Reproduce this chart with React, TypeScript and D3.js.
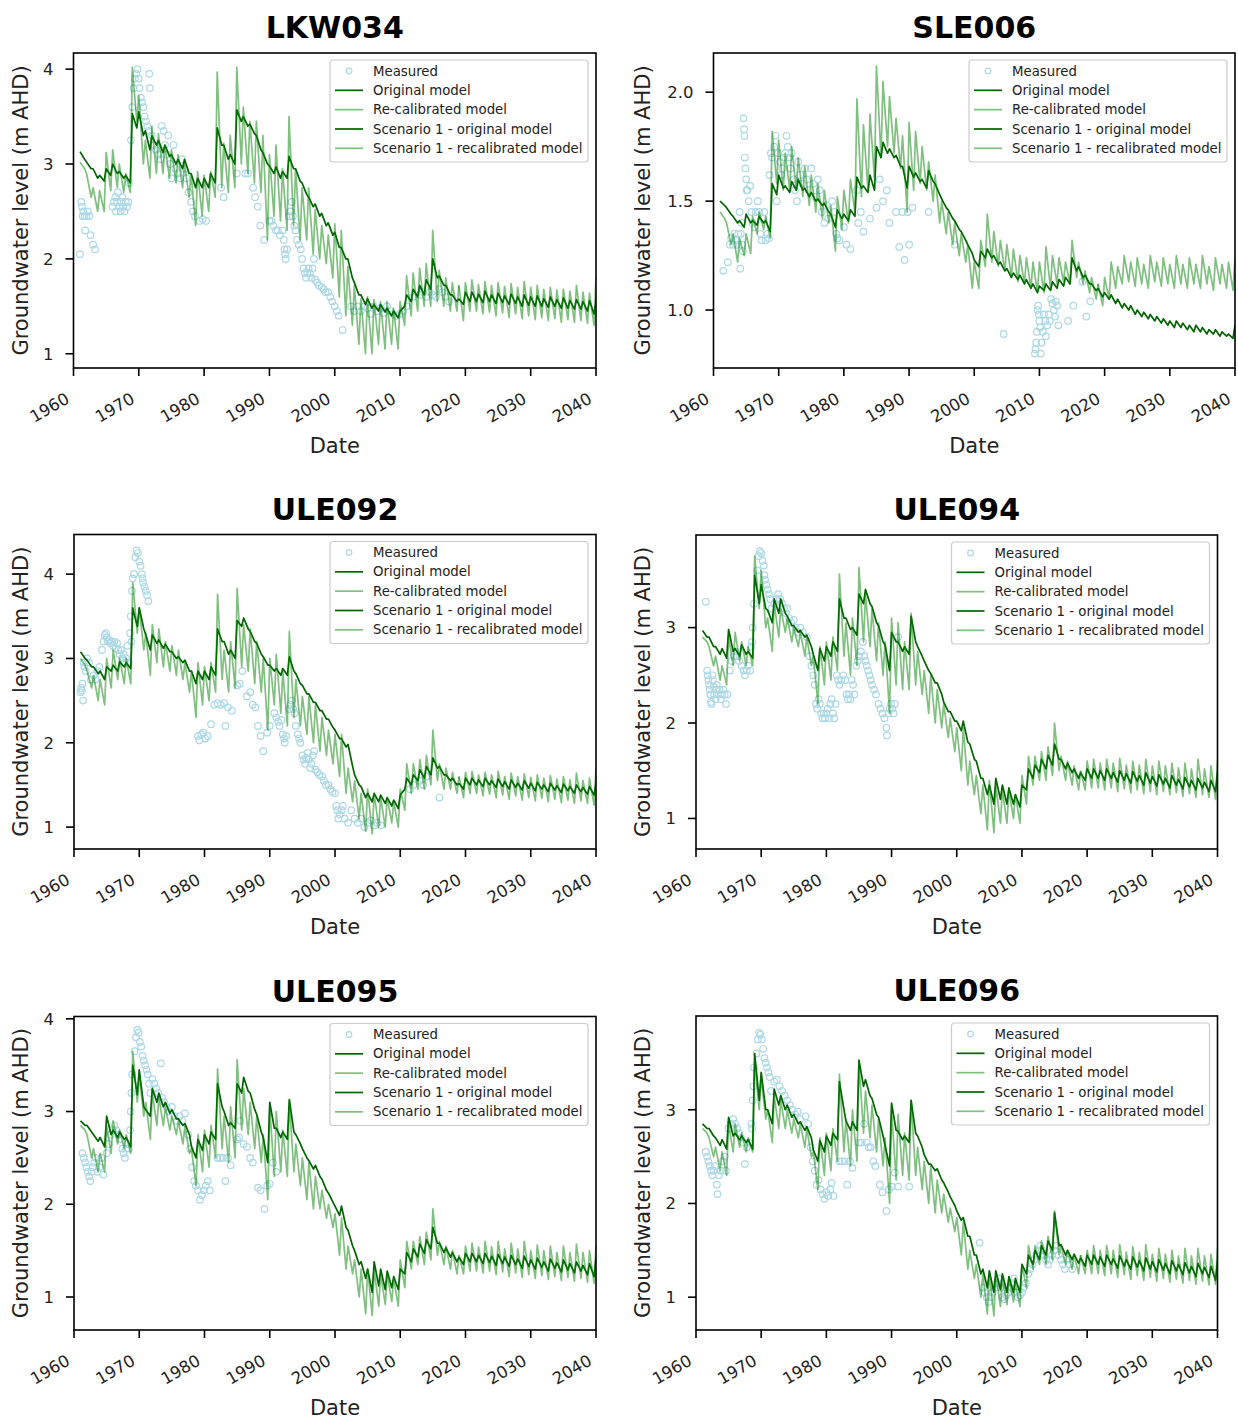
import React from "react";
import * as d3 from "d3";

// ---------- DATA ----------
const FIRST_YEAR = 1961; // first year of model series; one peak (hi) and one trough (lo) value per year
const TROUGH_OFFSET = 0.7; // fraction of year at which the annual trough is drawn
const SPLIT_YEAR = 2019; // model -> scenario

const X_TICKS = [1960, 1970, 1980, 1990, 2000, 2010, 2020, 2030, 2040];

// LKW034
const LKW034_ORIG_HI = [
  3.13, 3.02, 2.95, 2.88, 2.95, 3.0, 2.92, 2.88, 3.53, 3.55,
  3.35, 3.3, 3.25, 3.2, 3.1, 3.05, 3.05, 2.9, 2.85, 2.85,
  2.9, 3.38, 3.2, 3.1, 3.57, 3.5, 3.42, 3.3, 3.12, 2.98,
  2.97, 2.92, 3.08, 2.95, 2.8, 2.65, 2.58, 2.48, 2.38, 2.28,
  2.12, 2.0, 1.75, 1.62, 1.58, 1.52, 1.52, 1.48, 1.45, 1.45,
  1.62, 1.68, 1.72, 1.78, 2.0, 1.82, 1.72, 1.62, 1.58, 1.65,
  1.65, 1.63, 1.66, 1.62, 1.64, 1.61, 1.63, 1.6, 1.62, 1.6,
  1.61, 1.58, 1.6, 1.57, 1.59, 1.56, 1.57, 1.55, 1.56, 1.56,
];
const LKW034_ORIG_LO = [
  3.05, 2.95, 2.85, 2.82, 2.88, 2.9, 2.85, 2.8, 3.38, 3.3,
  3.15, 3.2, 3.12, 3.08, 3.0, 2.95, 2.9, 2.75, 2.75, 2.75,
  2.8, 3.2, 3.05, 3.0, 3.45, 3.4, 3.32, 3.15, 3.0, 2.9,
  2.85, 2.85, 2.95, 2.82, 2.68, 2.55, 2.45, 2.35, 2.25, 2.12,
  2.0, 1.8, 1.62, 1.52, 1.48, 1.45, 1.44, 1.4, 1.38, 1.5,
  1.55, 1.6, 1.62, 1.68, 1.8, 1.72, 1.62, 1.55, 1.52, 1.55,
  1.55, 1.54, 1.55, 1.53, 1.54, 1.52, 1.53, 1.5, 1.51, 1.5,
  1.5, 1.49, 1.5, 1.48, 1.48, 1.47, 1.47, 1.45, 1.42, 1.45,
];
const LKW034_RECAL_HI = [
  3.02, 2.9, 2.75, 2.72, 3.12, 3.15, 3.0, 2.9, 4.02, 3.72,
  3.25, 3.4, 3.32, 3.2, 3.15, 3.1, 3.0, 2.9, 2.92, 2.88,
  2.92, 3.97, 3.22, 3.3, 4.02, 3.6, 3.45, 3.45, 3.3, 3.1,
  3.2, 2.95, 3.5, 2.95, 2.75, 2.75, 2.52, 2.35, 2.25, 2.37,
  2.3, 1.92, 1.72, 1.58, 1.6, 1.57, 1.55, 1.55, 1.48, 1.55,
  1.82, 1.85, 1.9, 1.95, 2.3, 1.88, 1.8, 1.75, 1.72, 1.75,
  1.78, 1.73, 1.76, 1.72, 1.75, 1.71, 1.74, 1.7, 1.76, 1.7,
  1.72, 1.68, 1.7, 1.67, 1.68, 1.66, 1.72, 1.65, 1.64, 1.8,
];
const LKW034_RECAL_LO = [
  2.95, 2.65, 2.5, 2.5, 2.72, 2.75, 2.7, 2.7, 3.45, 3.0,
  2.85, 2.9, 2.9, 2.85, 2.8, 2.75, 2.65, 2.35, 2.45, 2.5,
  2.65, 2.75, 2.7, 2.75, 3.0, 2.9, 2.8, 2.7, 2.2, 2.45,
  2.4, 2.3, 2.35, 2.2, 2.2, 2.05, 2.0, 1.95, 1.8, 1.6,
  1.4, 1.3, 1.1, 1.0, 1.0, 1.1, 1.05, 1.1, 1.05, 1.3,
  1.4, 1.45, 1.5, 1.5, 1.55, 1.5, 1.45, 1.45, 1.35, 1.45,
  1.45, 1.42, 1.44, 1.4, 1.43, 1.38, 1.42, 1.37, 1.4, 1.36,
  1.38, 1.35, 1.37, 1.33, 1.36, 1.33, 1.35, 1.32, 1.3, 1.4,
];
const LKW034_MEASURED = [
  [1961.0, 2.05], [1961.2, 2.6], [1961.3, 2.55], [1961.4, 2.45], [1961.5, 2.5], [1961.7, 2.45], [1961.8, 2.3], [1962.0, 2.45], [1962.2, 2.5], [1962.4, 2.45], [1962.6, 2.25], [1963.0, 2.15], [1963.3, 2.1],
  [1966.0, 2.55], [1966.2, 2.6], [1966.4, 2.65], [1966.5, 2.5], [1966.7, 2.6], [1966.8, 2.7], [1967.0, 2.55], [1967.2, 2.5], [1967.3, 2.6], [1967.5, 2.65], [1967.6, 2.55], [1967.8, 2.5], [1968.0, 2.6], [1968.2, 2.55], [1968.4, 2.6], [1968.5, 2.8],
  [1968.8, 3.25], [1969.0, 3.6], [1969.2, 3.8], [1969.4, 3.9], [1969.6, 3.95], [1969.8, 4.0], [1970.0, 3.9], [1970.1, 3.8], [1970.3, 3.7], [1970.5, 3.65], [1970.7, 3.6], [1970.9, 3.5], [1971.1, 3.45], [1971.3, 3.4], [1971.5, 3.35], [1971.6, 3.95], [1971.7, 3.8],
  [1972.0, 3.3], [1972.3, 3.2], [1972.6, 3.15], [1973.0, 3.1], [1973.3, 3.05], [1973.5, 3.4], [1973.8, 3.35], [1974.0, 3.2], [1974.3, 3.1], [1974.5, 3.3], [1974.8, 3.0], [1975.0, 2.85], [1975.3, 3.2], [1975.6, 2.95], [1976.0, 2.9], [1976.3, 2.85], [1976.6, 3.05], [1977.0, 2.95], [1977.3, 2.85], [1977.6, 2.7], [1978.0, 2.6], [1978.3, 2.5], [1978.6, 2.45],
  [1979.3, 2.4], [1979.8, 2.42], [1980.3, 2.4],
  [1982.6, 2.75], [1983.0, 2.65],
  [1985.0, 2.9], [1986.3, 2.9], [1986.7, 2.9],
  [1987.5, 2.75], [1987.8, 2.65], [1988.2, 2.55], [1988.6, 2.35], [1989.2, 2.2],
  [1990.0, 2.4], [1990.3, 2.4], [1990.6, 2.35], [1991.0, 2.3], [1991.3, 2.3], [1991.6, 2.25], [1992.0, 2.3], [1992.2, 2.2], [1992.3, 2.1], [1992.4, 2.05], [1992.5, 2.0], [1992.7, 2.1],
  [1993.0, 2.45], [1993.2, 2.5], [1993.4, 2.6], [1993.6, 2.45], [1993.8, 2.35], [1994.0, 2.3], [1994.2, 2.2], [1994.5, 2.15], [1994.8, 2.1],
  [1995.0, 2.0], [1995.2, 1.9], [1995.4, 1.85], [1995.6, 1.8], [1995.8, 1.85], [1996.0, 1.9], [1996.2, 1.85], [1996.4, 1.8], [1996.6, 1.9], [1996.8, 2.0],
  [1997.0, 1.78], [1997.3, 1.75], [1997.6, 1.72], [1998.0, 1.7], [1998.3, 1.68], [1998.6, 1.65], [1999.0, 1.65], [1999.3, 1.6], [1999.6, 1.55], [2000.0, 1.5], [2000.3, 1.45], [2000.6, 1.4], [2001.2, 1.25],
  [2002.5, 1.5], [2003.0, 1.45], [2003.5, 1.5], [2004.0, 1.45], [2004.5, 1.5], [2005.0, 1.48], [2005.5, 1.42], [2006.0, 1.5], [2006.5, 1.45], [2007.0, 1.48], [2007.5, 1.43], [2008.0, 1.5], [2008.5, 1.45], [2009.0, 1.42], [2009.5, 1.4], [2010.0, 1.42], [2010.5, 1.45],
  [2011.0, 1.5], [2012.0, 1.6], [2013.0, 1.62], [2013.5, 1.65], [2014.0, 1.6], [2014.5, 1.65], [2015.0, 1.62], [2015.5, 1.6], [2016.0, 1.68], [2016.5, 1.65], [2017.0, 1.6], [2017.5, 1.55],
];

// SLE006
const SLE006_ORIG_HI = [
  1.5, 1.47, 1.43, 1.41, 1.44, 1.41, 1.43, 1.41, 1.58, 1.62,
  1.57, 1.59, 1.6, 1.56, 1.54, 1.51, 1.49, 1.44, 1.46, 1.44,
  1.46, 1.61, 1.57, 1.62, 1.75, 1.77, 1.74, 1.71, 1.66, 1.66,
  1.63, 1.6, 1.64, 1.58, 1.51, 1.46, 1.41, 1.36, 1.3, 1.23,
  1.27, 1.28, 1.25, 1.22, 1.19, 1.17, 1.16, 1.14, 1.12, 1.11,
  1.12, 1.13, 1.14, 1.15, 1.24, 1.2, 1.16, 1.12, 1.1, 1.08,
  1.07, 1.05, 1.03, 1.02, 1.0, 0.99, 0.98, 0.97, 0.96, 0.95,
  0.95, 0.94, 0.93, 0.93, 0.92, 0.91, 0.91, 0.9, 0.89, 0.93,
];
const SLE006_ORIG_LO = [
  1.48, 1.44, 1.4, 1.38, 1.4, 1.39, 1.4, 1.36, 1.53, 1.56,
  1.54, 1.55, 1.55, 1.52, 1.5, 1.48, 1.45, 1.38, 1.42, 1.41,
  1.43, 1.56, 1.54, 1.55, 1.7, 1.72, 1.7, 1.66, 1.56, 1.61,
  1.59, 1.56, 1.59, 1.53, 1.47, 1.42, 1.37, 1.32, 1.26, 1.2,
  1.24, 1.24, 1.21, 1.18, 1.15, 1.14, 1.12, 1.1, 1.08, 1.09,
  1.09, 1.1, 1.11, 1.12, 1.18, 1.15, 1.12, 1.09, 1.06, 1.05,
  1.03, 1.01, 1.0, 0.98, 0.97, 0.96, 0.95, 0.94, 0.93, 0.92,
  0.92, 0.91, 0.9, 0.9, 0.89, 0.89, 0.88, 0.88, 0.87, 0.9,
];
const SLE006_RECAL_HI = [
  1.45, 1.4, 1.35, 1.33, 1.35, 1.43, 1.45, 1.43, 1.82, 1.78,
  1.72, 1.75, 1.7, 1.66, 1.62, 1.58, 1.55, 1.48, 1.52, 1.55,
  1.6, 1.97, 1.85, 1.9, 2.12, 2.05, 1.98, 1.88, 1.8, 1.86,
  1.82, 1.75, 1.68, 1.62, 1.5, 1.45, 1.4, 1.35, 1.3, 1.22,
  1.32, 1.44, 1.36, 1.32, 1.3, 1.28, 1.25, 1.24, 1.22, 1.22,
  1.29, 1.25, 1.24, 1.22, 1.32, 1.22, 1.18, 1.15, 1.12, 1.15,
  1.22, 1.2, 1.25, 1.22, 1.24, 1.21, 1.25, 1.22, 1.24, 1.21,
  1.25, 1.21, 1.24, 1.21, 1.25, 1.2, 1.24, 1.21, 1.22, 1.24,
];
const SLE006_RECAL_LO = [
  1.42, 1.3, 1.22, 1.25, 1.26, 1.35, 1.37, 1.33, 1.58, 1.55,
  1.55, 1.55, 1.52, 1.48, 1.45, 1.42, 1.4, 1.27, 1.37, 1.4,
  1.45, 1.52, 1.55, 1.6, 1.7, 1.75, 1.72, 1.65, 1.45, 1.55,
  1.58, 1.55, 1.5, 1.4, 1.35, 1.3, 1.25, 1.22, 1.1, 1.1,
  1.2, 1.22, 1.2, 1.18, 1.15, 1.13, 1.12, 1.1, 1.08, 1.08,
  1.1, 1.12, 1.13, 1.12, 1.15, 1.12, 1.08, 1.05, 1.02, 1.05,
  1.1, 1.12, 1.13, 1.11, 1.12, 1.1, 1.13, 1.11, 1.12, 1.1,
  1.12, 1.1, 1.12, 1.1, 1.12, 1.09, 1.12, 1.1, 1.09, 1.12,
];
const SLE006_MEASURED = [
  [1961.5, 1.18], [1962.2, 1.22], [1962.5, 1.3], [1962.7, 1.33], [1963.0, 1.3], [1963.2, 1.35], [1963.4, 1.32], [1963.6, 1.3], [1963.8, 1.35], [1964.0, 1.45], [1964.1, 1.19], [1964.2, 1.35], [1964.3, 1.4], [1964.4, 1.3], [1964.5, 1.27],
  [1964.6, 1.88], [1964.7, 1.83], [1964.75, 1.8], [1964.8, 1.7], [1964.9, 1.65], [1965.0, 1.6], [1965.1, 1.55], [1965.2, 1.55], [1965.4, 1.5], [1965.6, 1.57],
  [1965.8, 1.45], [1966.0, 1.4], [1966.3, 1.38], [1966.5, 1.45], [1966.8, 1.5], [1967.0, 1.45], [1967.2, 1.35], [1967.4, 1.32], [1967.6, 1.42], [1967.8, 1.45], [1968.0, 1.32], [1968.3, 1.35], [1968.5, 1.33],
  [1968.6, 1.62], [1968.8, 1.72], [1969.0, 1.7], [1969.3, 1.75], [1969.5, 1.8], [1969.7, 1.5], [1969.9, 1.72], [1970.2, 1.68], [1970.4, 1.62], [1970.6, 1.65], [1970.8, 1.7], [1971.0, 1.72], [1971.2, 1.8], [1971.4, 1.75], [1971.6, 1.7], [1971.8, 1.65], [1972.0, 1.72],
  [1972.3, 1.6], [1972.5, 1.55], [1972.8, 1.5], [1973.0, 1.68], [1973.3, 1.62], [1973.6, 1.58], [1974.0, 1.65], [1974.3, 1.6], [1974.6, 1.55], [1975.0, 1.65], [1975.3, 1.58], [1975.6, 1.52], [1976.0, 1.6], [1976.3, 1.55], [1976.6, 1.45], [1977.0, 1.4], [1977.3, 1.48], [1977.6, 1.42],
  [1978.2, 1.5], [1978.5, 1.45], [1978.8, 1.35], [1979.0, 1.33], [1979.3, 1.32], [1980.0, 1.38], [1980.4, 1.3], [1981.0, 1.28],
  [1982.0, 1.55], [1982.2, 1.4], [1982.6, 1.45], [1983.0, 1.36], [1984.0, 1.42], [1985.0, 1.47], [1985.5, 1.6], [1986.0, 1.5], [1986.6, 1.55], [1987.0, 1.4],
  [1988.0, 1.45], [1988.5, 1.29], [1989.0, 1.45], [1989.3, 1.23], [1989.8, 1.45], [1990.0, 1.3], [1990.5, 1.47],
  [1993.0, 1.45], [1997.0, 1.3],
  [2004.5, 0.89],
  [2009.3, 0.8], [2009.4, 0.82], [2009.5, 0.85], [2009.6, 0.9], [2009.7, 1.0], [2009.8, 1.02], [2009.9, 0.98], [2010.0, 0.95], [2010.1, 0.92], [2010.2, 0.8], [2010.3, 0.85], [2010.5, 0.9], [2010.7, 0.98], [2010.9, 0.95], [2011.0, 0.88], [2011.2, 0.93], [2011.4, 0.98], [2011.6, 0.95], [2011.8, 1.05], [2012.0, 1.03], [2012.2, 1.0], [2012.4, 0.97], [2012.5, 1.04], [2012.7, 1.02], [2012.9, 0.93],
  [2014.4, 0.95], [2015.2, 1.02], [2016.6, 1.13], [2017.2, 0.97], [2017.8, 1.04],
];

// ULE092
const ULE092_ORIG_HI = [
  3.08, 2.98, 2.9, 2.85, 2.9, 2.92, 2.96, 2.95, 3.6, 3.6,
  3.28, 3.28, 3.22, 3.17, 3.08, 3.02, 2.98, 2.85, 2.85, 2.85,
  2.9, 3.35, 3.2, 3.1, 3.45, 3.48, 3.32, 3.18, 3.02, 2.92,
  2.88, 2.88, 3.02, 2.82, 2.68, 2.58, 2.48, 2.38, 2.28, 2.15,
  2.05, 1.98, 1.62, 1.48, 1.4, 1.4, 1.38, 1.35, 1.32, 1.38,
  1.58, 1.62, 1.68, 1.72, 1.82, 1.72, 1.62, 1.58, 1.52, 1.58,
  1.58, 1.56, 1.58, 1.55, 1.57, 1.54, 1.56, 1.52, 1.55, 1.52,
  1.53, 1.5, 1.52, 1.49, 1.51, 1.48, 1.5, 1.47, 1.48, 1.52,
];
const ULE092_ORIG_LO = [
  3.0, 2.9, 2.82, 2.75, 2.85, 2.85, 2.9, 2.88, 3.38, 3.35,
  3.1, 3.18, 3.12, 3.08, 3.0, 2.95, 2.85, 2.7, 2.75, 2.75,
  2.8, 3.2, 3.05, 3.0, 3.38, 3.35, 3.2, 3.05, 2.92, 2.85,
  2.8, 2.8, 2.85, 2.7, 2.58, 2.48, 2.38, 2.28, 2.18, 2.05,
  1.95, 1.72, 1.5, 1.35, 1.3, 1.3, 1.28, 1.25, 1.22, 1.45,
  1.5, 1.55, 1.58, 1.62, 1.7, 1.62, 1.55, 1.5, 1.45, 1.5,
  1.5, 1.48, 1.5, 1.47, 1.48, 1.45, 1.47, 1.44, 1.46, 1.43,
  1.45, 1.42, 1.44, 1.41, 1.43, 1.4, 1.42, 1.39, 1.38, 1.45,
];
const ULE092_RECAL_HI = [
  3.0, 2.85, 2.8, 2.75, 3.0, 3.1, 3.0, 3.0, 3.9, 3.6,
  3.3, 3.4, 3.35, 3.2, 3.15, 3.1, 2.95, 2.85, 2.95, 2.9,
  2.95, 3.76, 3.1, 3.2, 3.83, 3.4, 3.35, 3.2, 3.0, 3.0,
  3.05, 2.85, 3.32, 2.75, 2.55, 2.55, 2.45, 2.3, 2.15, 2.1,
  2.1, 1.7, 1.55, 1.4, 1.45, 1.4, 1.35, 1.35, 1.3, 1.45,
  1.75, 1.75, 1.8, 1.85, 2.15, 1.75, 1.7, 1.65, 1.6, 1.65,
  1.66, 1.62, 1.65, 1.62, 1.66, 1.6, 1.64, 1.6, 1.63, 1.59,
  1.62, 1.58, 1.61, 1.57, 1.6, 1.56, 1.64, 1.55, 1.58, 1.7,
];
const ULE092_RECAL_LO = [
  2.92, 2.65, 2.5, 2.45, 2.65, 2.75, 2.7, 2.7, 3.3, 3.1,
  2.8, 2.95, 2.9, 2.85, 2.8, 2.75, 2.6, 2.3, 2.45, 2.5,
  2.6, 2.75, 2.6, 2.65, 2.9, 2.85, 2.7, 2.6, 2.15, 2.45,
  2.35, 2.2, 2.3, 2.2, 2.1, 2.0, 1.9, 1.85, 1.75, 1.6,
  1.4, 1.3, 1.1, 0.95, 0.92, 1.0, 1.0, 1.05, 1.0, 1.2,
  1.4, 1.45, 1.45, 1.5, 1.55, 1.45, 1.45, 1.4, 1.35, 1.4,
  1.4, 1.37, 1.39, 1.35, 1.38, 1.33, 1.37, 1.32, 1.35, 1.31,
  1.34, 1.3, 1.33, 1.29, 1.32, 1.28, 1.31, 1.28, 1.26, 1.35,
];
const ULE092_MEASURED = [
  [1961.0, 2.6], [1961.1, 2.65], [1961.2, 2.62], [1961.3, 2.7], [1961.4, 2.5], [1961.5, 2.95], [1961.6, 2.9], [1961.8, 2.85], [1962.0, 3.0], [1962.3, 2.95], [1962.6, 2.75], [1963.0, 2.8], [1963.3, 2.75], [1963.6, 2.85], [1963.9, 2.9],
  [1964.3, 3.1], [1964.5, 3.2], [1964.7, 3.28], [1964.9, 3.3], [1965.0, 3.25], [1965.2, 3.2], [1965.4, 3.22], [1965.6, 3.18], [1965.8, 3.2], [1966.0, 3.15], [1966.2, 3.2], [1966.4, 3.12], [1966.6, 3.18], [1966.8, 3.1], [1967.0, 3.05], [1967.2, 3.1], [1967.4, 3.0], [1967.6, 3.05], [1967.8, 2.95], [1968.0, 3.0], [1968.2, 3.15], [1968.4, 2.95],
  [1968.6, 3.3], [1968.7, 3.5], [1968.8, 3.2], [1968.9, 3.8], [1969.0, 3.95], [1969.2, 4.0], [1969.4, 4.2], [1969.6, 4.28], [1969.8, 4.25], [1970.0, 4.15], [1970.2, 4.1], [1970.4, 4.0], [1970.5, 3.95], [1970.6, 3.9], [1970.8, 3.85], [1971.0, 3.8], [1971.2, 3.75], [1971.4, 3.68],
  [1979.0, 2.08], [1979.2, 2.03], [1979.5, 2.1], [1979.8, 2.12], [1980.1, 2.05], [1980.5, 2.08],
  [1981.0, 2.22], [1981.5, 2.45], [1982.0, 2.47], [1982.5, 2.45], [1983.0, 2.47], [1983.2, 2.2], [1983.6, 2.42], [1984.2, 2.38],
  [1985.0, 2.68], [1985.4, 2.7], [1985.8, 2.85], [1986.5, 2.55], [1987.0, 2.6], [1987.4, 2.45], [1987.8, 2.42],
  [1988.2, 2.2], [1988.6, 2.08], [1989.0, 1.9], [1989.6, 2.12], [1990.0, 2.2],
  [1990.7, 2.35], [1991.0, 2.3], [1991.3, 2.25], [1991.5, 2.2], [1991.8, 2.27], [1992.0, 2.1], [1992.2, 2.05], [1992.3, 2.0], [1992.5, 2.08],
  [1993.0, 2.4], [1993.2, 2.45], [1993.4, 2.5], [1993.6, 2.4], [1993.8, 2.35], [1994.0, 2.2], [1994.3, 2.1], [1994.5, 2.05], [1994.7, 2.0],
  [1995.0, 1.85], [1995.2, 1.8], [1995.4, 1.75], [1995.6, 1.82], [1995.8, 1.88], [1996.0, 1.8], [1996.2, 1.7], [1996.4, 1.75], [1996.6, 1.85], [1996.8, 1.9], [1997.0, 1.68], [1997.3, 1.65], [1997.6, 1.62], [1998.0, 1.6], [1998.3, 1.55], [1998.6, 1.5], [1999.0, 1.5], [1999.3, 1.45], [1999.6, 1.42], [2000.0, 1.4],
  [2000.2, 1.25], [2000.4, 1.2], [2000.5, 1.1], [2000.7, 1.15], [2001.0, 1.2], [2001.2, 1.25], [2001.5, 1.1], [2002.0, 1.05], [2002.5, 1.2], [2003.0, 1.1], [2003.5, 1.05], [2004.0, 1.1], [2004.5, 1.0], [2005.0, 1.05], [2005.5, 1.08], [2006.0, 1.02], [2006.5, 1.05], [2007.0, 1.02],
  [2011.5, 1.45], [2012.0, 1.5], [2013.0, 1.55], [2013.5, 1.5], [2014.0, 1.6], [2016.0, 1.35],
];

// ULE094
const ULE094_ORIG_HI = [
  2.97, 2.9, 2.8, 2.78, 2.98, 2.78, 2.82, 2.75, 3.55, 3.45,
  3.18, 3.3, 3.3, 3.12, 3.02, 2.97, 2.92, 2.72, 2.78, 2.8,
  2.85, 3.3, 3.1, 3.0, 3.35, 3.4, 3.22, 3.02, 2.82, 2.95,
  2.85, 2.8, 3.12, 2.8, 2.65, 2.52, 2.42, 2.22, 2.12, 2.02,
  2.02, 1.78, 1.6, 1.42, 1.35, 1.42, 1.35, 1.32, 1.25, 1.35,
  1.52, 1.56, 1.62, 1.66, 1.78, 1.62, 1.58, 1.52, 1.48, 1.52,
  1.52, 1.5, 1.52, 1.48, 1.5, 1.47, 1.49, 1.45, 1.48, 1.44,
  1.46, 1.42, 1.45, 1.41, 1.43, 1.4, 1.42, 1.38, 1.4, 1.48,
];
const ULE094_ORIG_LO = [
  2.9, 2.8, 2.72, 2.68, 2.75, 2.7, 2.72, 2.68, 3.25, 3.2,
  3.05, 3.15, 3.15, 3.02, 2.95, 2.9, 2.8, 2.55, 2.65, 2.7,
  2.75, 3.1, 2.98, 2.92, 3.25, 3.25, 3.05, 2.85, 2.55, 2.85,
  2.75, 2.72, 2.85, 2.7, 2.55, 2.42, 2.3, 2.12, 2.02, 1.92,
  1.8, 1.62, 1.42, 1.25, 1.15, 1.2, 1.15, 1.15, 1.12, 1.3,
  1.42, 1.48, 1.52, 1.56, 1.62, 1.52, 1.48, 1.42, 1.4, 1.42,
  1.42, 1.4, 1.42, 1.38, 1.4, 1.37, 1.39, 1.35, 1.37, 1.34,
  1.36, 1.32, 1.35, 1.31, 1.33, 1.3, 1.32, 1.28, 1.28, 1.35,
];
const ULE094_RECAL_HI = [
  2.9, 2.8, 2.7, 2.6, 2.9, 2.95, 2.85, 2.8, 3.75, 3.6,
  3.1, 3.25, 3.2, 3.1, 3.0, 2.95, 2.9, 2.7, 2.8, 2.85,
  2.9, 3.56, 3.05, 3.1, 3.63, 3.35, 3.2, 3.05, 2.85, 3.1,
  3.05, 2.85, 3.15, 2.75, 2.55, 2.5, 2.35, 2.2, 2.05, 1.95,
  1.95, 1.6, 1.45, 1.35, 1.4, 1.35, 1.3, 1.3, 1.25, 1.45,
  1.65, 1.65, 1.7, 1.75, 2.0, 1.65, 1.6, 1.55, 1.5, 1.6,
  1.62, 1.58, 1.62, 1.58, 1.63, 1.56, 1.6, 1.56, 1.62, 1.55,
  1.6, 1.55, 1.58, 1.53, 1.58, 1.52, 1.62, 1.52, 1.55, 1.6,
];
const ULE094_RECAL_LO = [
  2.85, 2.6, 2.45, 2.4, 2.6, 2.65, 2.6, 2.6, 3.2, 3.0,
  2.75, 2.9, 2.95, 2.85, 2.8, 2.7, 2.6, 2.2, 2.4, 2.45,
  2.55, 2.7, 2.5, 2.6, 2.85, 2.8, 2.65, 2.5, 2.1, 2.4,
  2.35, 2.35, 2.4, 2.3, 2.1, 2.0, 1.95, 1.85, 1.7, 1.5,
  1.35, 1.25, 1.05, 0.88, 0.85, 0.95, 0.95, 1.0, 0.95, 1.15,
  1.35, 1.4, 1.4, 1.45, 1.5, 1.4, 1.35, 1.3, 1.3, 1.32,
  1.32, 1.3, 1.32, 1.28, 1.31, 1.27, 1.3, 1.26, 1.28, 1.25,
  1.28, 1.25, 1.27, 1.23, 1.26, 1.22, 1.25, 1.22, 1.2, 1.3,
];
const ULE094_MEASURED = [
  [1961.5, 3.27],
  [1961.7, 2.55], [1961.8, 2.5], [1961.9, 2.45], [1962.0, 2.4], [1962.1, 2.35], [1962.2, 2.3], [1962.3, 2.22], [1962.4, 2.2], [1962.5, 2.5], [1962.6, 2.45], [1962.7, 2.38], [1962.8, 2.3], [1963.0, 2.25], [1963.1, 2.35], [1963.2, 2.4], [1963.4, 2.3], [1963.6, 2.35], [1963.8, 2.25], [1964.0, 2.3], [1964.2, 2.35], [1964.4, 2.3], [1964.6, 2.2], [1964.8, 2.3],
  [1965.2, 2.55], [1965.5, 2.65], [1965.8, 2.7], [1966.0, 2.75], [1966.3, 2.7], [1966.6, 2.65], [1967.0, 2.6], [1967.3, 2.55], [1967.5, 2.5], [1967.8, 2.55], [1968.0, 2.6], [1968.3, 2.55],
  [1968.5, 2.8], [1968.6, 2.85], [1968.7, 3.0], [1968.9, 3.25],
  [1969.4, 3.6], [1969.6, 3.75], [1969.8, 3.8], [1970.0, 3.78], [1970.2, 3.7], [1970.4, 3.65], [1970.5, 3.55], [1970.6, 3.5], [1970.8, 3.45], [1971.0, 3.4], [1971.2, 3.35], [1971.4, 3.3],
  [1971.6, 3.2], [1972.0, 3.25], [1972.3, 3.3], [1972.6, 3.35], [1972.9, 3.3], [1973.2, 3.25], [1973.5, 3.2], [1973.8, 3.15], [1974.0, 3.2], [1974.3, 3.1], [1974.6, 3.05], [1975.0, 3.08], [1975.3, 3.0], [1975.6, 2.95], [1976.0, 3.0], [1976.4, 2.95], [1977.0, 2.9], [1977.4, 2.7], [1977.7, 2.6], [1978.0, 2.5], [1978.2, 2.4],
  [1978.4, 2.2], [1978.6, 2.15], [1978.8, 2.25], [1979.0, 2.2], [1979.2, 2.1], [1979.4, 2.05], [1979.6, 2.1], [1979.8, 2.05], [1980.0, 2.1], [1980.2, 2.15], [1980.4, 2.05], [1980.6, 2.2], [1980.8, 2.25], [1981.0, 2.1], [1981.2, 2.05], [1981.4, 2.2],
  [1981.6, 2.5], [1981.8, 2.45], [1982.0, 2.4], [1982.3, 2.45], [1982.6, 2.5], [1982.9, 2.45], [1983.1, 2.3], [1983.3, 2.25], [1983.5, 2.3], [1983.7, 2.25], [1983.9, 2.45], [1984.1, 2.4], [1984.3, 2.3],
  [1984.6, 2.6], [1984.8, 2.65], [1985.0, 2.7], [1985.3, 2.75], [1985.6, 2.85], [1985.8, 2.7], [1986.0, 2.65], [1986.2, 2.6], [1986.4, 2.55], [1986.6, 2.5], [1986.8, 2.45], [1987.0, 2.4], [1987.3, 2.35], [1987.6, 2.3],
  [1988.0, 2.2], [1988.3, 2.15], [1988.6, 2.1], [1988.9, 2.05], [1989.2, 1.95], [1989.3, 1.87], [1989.5, 2.1], [1989.7, 2.15], [1989.9, 2.2], [1990.1, 2.15], [1990.3, 2.1], [1990.5, 2.2],
  [1991.0, 2.9],
];

// ULE095
const ULE095_ORIG_HI = [
  2.9, 2.85, 2.75, 2.72, 2.95, 2.8, 2.78, 2.72, 3.5, 3.45,
  3.02, 3.25, 3.2, 3.1, 3.02, 2.92, 2.87, 2.62, 2.7, 2.75,
  2.78, 3.3, 3.0, 2.88, 3.3, 3.37, 3.2, 2.97, 2.72, 3.1,
  2.82, 2.78, 3.13, 2.75, 2.6, 2.47, 2.42, 2.27, 2.12, 1.98,
  1.98, 1.72, 1.5, 1.38, 1.3, 1.38, 1.3, 1.28, 1.22, 1.3,
  1.48, 1.52, 1.57, 1.62, 1.75, 1.58, 1.53, 1.48, 1.43, 1.47,
  1.47, 1.45, 1.47, 1.44, 1.46, 1.43, 1.45, 1.41, 1.44, 1.4,
  1.42, 1.38, 1.41, 1.37, 1.4, 1.36, 1.38, 1.34, 1.36, 1.42,
];
const ULE095_ORIG_LO = [
  2.85, 2.78, 2.68, 2.62, 2.75, 2.72, 2.7, 2.62, 3.18, 3.05,
  2.95, 3.1, 3.05, 2.98, 2.92, 2.85, 2.75, 2.5, 2.58, 2.65,
  2.7, 3.05, 2.85, 2.82, 3.2, 3.22, 3.02, 2.78, 2.45, 2.82,
  2.72, 2.7, 2.78, 2.65, 2.5, 2.38, 2.3, 2.15, 2.02, 1.88,
  1.75, 1.55, 1.35, 1.2, 1.05, 1.12, 1.08, 1.1, 1.08, 1.25,
  1.38, 1.43, 1.47, 1.52, 1.58, 1.48, 1.43, 1.38, 1.35, 1.38,
  1.38, 1.36, 1.37, 1.34, 1.36, 1.33, 1.35, 1.31, 1.33, 1.3,
  1.32, 1.28, 1.31, 1.27, 1.29, 1.26, 1.28, 1.24, 1.22, 1.3,
];
const ULE095_RECAL_HI = [
  2.85, 2.75, 2.6, 2.55, 2.85, 2.9, 2.8, 2.75, 3.65, 3.4,
  3.1, 3.2, 3.15, 3.05, 2.95, 2.9, 2.85, 2.6, 2.75, 2.8,
  2.85, 3.46, 2.95, 3.05, 3.56, 3.25, 3.1, 2.95, 2.75, 3.05,
  3.0, 2.8, 3.1, 2.65, 2.5, 2.45, 2.3, 2.15, 2.0, 1.9,
  1.85, 1.55, 1.4, 1.3, 1.3, 1.3, 1.25, 1.25, 1.2, 1.4,
  1.6, 1.6, 1.65, 1.7, 1.95, 1.6, 1.55, 1.5, 1.45, 1.55,
  1.58, 1.54, 1.6, 1.54, 1.6, 1.52, 1.58, 1.52, 1.6, 1.5,
  1.56, 1.5, 1.55, 1.48, 1.55, 1.48, 1.57, 1.48, 1.5, 1.55,
];
const ULE095_RECAL_LO = [
  2.8, 2.5, 2.35, 2.35, 2.55, 2.65, 2.6, 2.55, 3.1, 2.95,
  2.7, 2.85, 2.85, 2.8, 2.75, 2.65, 2.55, 2.2, 2.35, 2.4,
  2.5, 2.6, 2.45, 2.5, 2.8, 2.75, 2.6, 2.45, 2.05, 2.3,
  2.35, 2.3, 2.35, 2.2, 2.05, 1.95, 1.95, 1.85, 1.75, 1.45,
  1.3, 1.25, 1.0, 0.82, 0.8, 0.9, 0.92, 0.95, 0.9, 1.1,
  1.3, 1.35, 1.35, 1.4, 1.45, 1.35, 1.3, 1.25, 1.25, 1.28,
  1.28, 1.26, 1.28, 1.24, 1.27, 1.22, 1.26, 1.21, 1.24, 1.2,
  1.23, 1.19, 1.22, 1.18, 1.21, 1.17, 1.2, 1.16, 1.15, 1.25,
];
const ULE095_MEASURED = [
  [1961.3, 2.55], [1961.5, 2.5], [1961.7, 2.45], [1961.9, 2.4], [1962.1, 2.35], [1962.3, 2.3], [1962.5, 2.25], [1962.7, 2.35], [1962.9, 2.4], [1963.1, 2.45], [1963.3, 2.5], [1963.6, 2.35], [1963.9, 2.4], [1964.2, 2.5], [1964.5, 2.32],
  [1965.0, 2.55], [1965.3, 2.65], [1965.6, 2.75], [1965.9, 2.8], [1966.2, 2.85], [1966.5, 2.8], [1966.8, 2.75], [1967.1, 2.7], [1967.4, 2.6], [1967.6, 2.55], [1967.8, 2.5], [1968.0, 2.6], [1968.2, 2.65], [1968.4, 2.6],
  [1968.6, 2.8], [1968.7, 3.0], [1968.8, 3.2], [1968.9, 3.4],
  [1969.3, 3.65], [1969.5, 3.8], [1969.7, 3.88], [1969.9, 3.85], [1970.1, 3.75], [1970.3, 3.7], [1970.5, 3.6], [1970.7, 3.55], [1970.9, 3.5], [1971.1, 3.45], [1971.3, 3.4], [1971.5, 3.3], [1971.7, 3.2],
  [1972.0, 3.35], [1972.3, 3.3], [1972.6, 3.25], [1972.9, 3.2], [1973.3, 3.52], [1973.5, 3.15], [1973.8, 3.1], [1974.2, 3.05], [1974.6, 3.0], [1975.0, 3.05], [1975.4, 2.95], [1975.8, 2.9], [1976.2, 2.95], [1976.6, 2.9], [1977.0, 2.98],
  [1977.5, 2.75], [1977.8, 2.6], [1978.1, 2.4], [1978.4, 2.25],
  [1978.7, 2.2], [1979.0, 2.15], [1979.3, 2.05], [1979.6, 2.1], [1979.9, 2.15], [1980.2, 2.2], [1980.5, 2.25], [1980.8, 2.15],
  [1982.0, 2.5], [1982.4, 2.5], [1982.8, 2.5], [1983.2, 2.25], [1983.6, 2.5], [1984.0, 2.42],
  [1985.0, 2.7], [1985.3, 2.72], [1985.5, 2.9], [1986.0, 2.65], [1986.5, 2.62], [1987.0, 2.5], [1987.4, 2.45],
  [1988.2, 2.18], [1988.6, 2.15], [1989.2, 1.95], [1989.6, 2.2], [1990.0, 2.22], [1990.5, 2.45], [1991.0, 2.35],
];

// ULE096
const ULE096_ORIG_HI = [
  2.85, 2.8, 2.7, 2.68, 2.92, 2.75, 2.72, 2.68, 3.6, 3.4,
  3.0, 3.22, 3.15, 3.05, 2.95, 2.87, 2.82, 2.57, 2.67, 2.72,
  2.75, 3.3, 2.88, 2.87, 3.53, 3.32, 3.12, 2.92, 2.62, 3.07,
  2.77, 2.72, 3.1, 2.72, 2.52, 2.42, 2.37, 2.22, 2.07, 1.92,
  1.85, 1.65, 1.45, 1.3, 1.28, 1.28, 1.25, 1.22, 1.2, 1.35,
  1.45, 1.5, 1.55, 1.6, 1.9, 1.56, 1.5, 1.46, 1.42, 1.45,
  1.45, 1.43, 1.45, 1.41, 1.44, 1.4, 1.43, 1.39, 1.42, 1.38,
  1.4, 1.36, 1.39, 1.35, 1.37, 1.33, 1.36, 1.32, 1.33, 1.38,
];
const ULE096_ORIG_LO = [
  2.8, 2.72, 2.62, 2.58, 2.72, 2.68, 2.65, 2.58, 3.1, 3.0,
  2.85, 3.05, 3.0, 2.92, 2.85, 2.78, 2.7, 2.45, 2.55, 2.62,
  2.68, 3.0, 2.78, 2.78, 3.25, 3.15, 2.95, 2.72, 2.4, 2.78,
  2.68, 2.65, 2.75, 2.6, 2.42, 2.35, 2.25, 2.12, 1.98, 1.82,
  1.65, 1.45, 1.25, 1.1, 1.05, 1.08, 1.05, 1.05, 1.05, 1.25,
  1.35, 1.4, 1.45, 1.5, 1.55, 1.45, 1.4, 1.36, 1.33, 1.35,
  1.35, 1.33, 1.35, 1.31, 1.33, 1.3, 1.32, 1.28, 1.3, 1.27,
  1.29, 1.25, 1.28, 1.24, 1.26, 1.22, 1.25, 1.21, 1.18, 1.28,
];
const ULE096_RECAL_HI = [
  2.8, 2.7, 2.6, 2.55, 2.85, 2.85, 2.75, 2.7, 3.5, 3.35,
  3.0, 3.15, 3.1, 3.0, 2.9, 2.85, 2.8, 2.55, 2.7, 2.75,
  2.8, 3.38, 2.9, 3.0, 3.5, 3.2, 3.05, 2.9, 2.7, 3.0,
  2.95, 2.75, 3.1, 2.6, 2.45, 2.4, 2.25, 2.1, 1.95, 1.85,
  1.8, 1.5, 1.35, 1.25, 1.25, 1.25, 1.2, 1.2, 1.15, 1.35,
  1.55, 1.55, 1.6, 1.65, 1.92, 1.55, 1.5, 1.45, 1.45, 1.5,
  1.55, 1.5, 1.55, 1.5, 1.56, 1.48, 1.54, 1.48, 1.56, 1.46,
  1.52, 1.46, 1.5, 1.44, 1.52, 1.44, 1.52, 1.44, 1.46, 1.52,
];
const ULE096_RECAL_LO = [
  2.75, 2.5, 2.35, 2.3, 2.55, 2.6, 2.55, 2.55, 3.0, 2.9,
  2.65, 2.8, 2.8, 2.75, 2.7, 2.6, 2.5, 2.15, 2.3, 2.35,
  2.45, 2.55, 2.4, 2.45, 2.75, 2.7, 2.55, 2.4, 2.0, 2.25,
  2.3, 2.25, 2.3, 2.15, 2.0, 1.9, 1.9, 1.8, 1.7, 1.45,
  1.3, 1.2, 1.0, 0.82, 0.8, 0.9, 0.92, 0.95, 0.9, 1.1,
  1.3, 1.35, 1.35, 1.4, 1.45, 1.35, 1.3, 1.25, 1.25, 1.25,
  1.25, 1.23, 1.25, 1.21, 1.24, 1.19, 1.23, 1.18, 1.21, 1.17,
  1.2, 1.16, 1.19, 1.15, 1.18, 1.14, 1.17, 1.13, 1.14, 1.2,
];
const ULE096_MEASURED = [
  [1961.5, 2.55], [1961.7, 2.5], [1961.9, 2.45], [1962.1, 2.4], [1962.3, 2.35], [1962.5, 2.3], [1962.7, 2.35], [1962.9, 2.4], [1963.2, 2.2], [1963.3, 2.1], [1963.5, 2.3], [1963.8, 2.35], [1964.1, 2.45], [1964.4, 2.5], [1964.6, 2.35],
  [1965.0, 2.8], [1965.3, 2.85], [1965.7, 2.9], [1966.0, 2.85], [1966.3, 2.8], [1966.6, 2.75], [1966.9, 2.7], [1967.2, 2.65], [1967.5, 2.42], [1967.8, 2.6], [1968.1, 2.65],
  [1968.5, 2.85], [1968.6, 2.8], [1968.7, 3.1], [1968.8, 3.25], [1968.9, 3.45],
  [1969.3, 3.6], [1969.5, 3.75], [1969.7, 3.82], [1969.9, 3.8], [1970.1, 3.75], [1970.3, 3.65], [1970.5, 3.55], [1970.7, 3.5], [1970.9, 3.45], [1971.1, 3.4], [1971.3, 3.35], [1971.5, 3.2],
  [1972.0, 3.3], [1972.4, 3.32], [1972.8, 3.25], [1973.2, 3.2], [1973.6, 3.15], [1974.0, 3.1], [1974.4, 3.05], [1974.8, 3.0], [1975.2, 2.95], [1975.6, 2.98], [1976.0, 2.9], [1976.8, 2.93], [1977.2, 2.85],
  [1977.6, 2.6], [1977.9, 2.45], [1978.2, 2.35], [1978.5, 2.2],
  [1978.8, 2.25], [1979.1, 2.15], [1979.4, 2.1], [1979.7, 2.05], [1980.0, 2.12], [1980.3, 2.08], [1980.6, 2.15], [1980.8, 2.22], [1981.1, 2.08],
  [1982.0, 2.45], [1982.4, 2.45], [1982.8, 2.45], [1983.2, 2.2], [1983.6, 2.45], [1984.0, 2.38],
  [1985.0, 2.65], [1985.4, 2.65], [1985.8, 2.85], [1986.2, 2.65], [1986.5, 2.6], [1986.8, 2.6], [1987.2, 2.45], [1987.5, 2.4],
  [1988.2, 2.2], [1988.6, 2.12], [1989.2, 1.92], [1989.6, 2.15], [1990.0, 2.18], [1990.5, 2.33], [1991.0, 2.18],
  [1992.7, 2.18],
  [2003.5, 1.58],
  [2004.0, 1.1], [2004.3, 1.05], [2004.6, 1.0], [2004.9, 0.95], [2005.2, 1.0], [2005.5, 1.05], [2005.8, 1.1], [2006.1, 1.15], [2006.4, 1.2], [2006.7, 1.1], [2007.0, 1.0], [2007.3, 0.98], [2007.6, 1.02], [2007.9, 1.05], [2008.2, 1.1], [2008.5, 1.15], [2008.8, 1.2], [2009.1, 1.05], [2009.4, 1.0], [2009.7, 1.02], [2010.0, 1.05], [2010.3, 1.1], [2010.6, 1.15],
  [2011.0, 1.25], [2011.3, 1.3], [2011.6, 1.35], [2011.9, 1.4], [2012.2, 1.45], [2012.5, 1.5], [2012.8, 1.55], [2013.1, 1.5], [2013.4, 1.45], [2013.7, 1.4], [2014.0, 1.35], [2014.3, 1.4], [2014.6, 1.45], [2015.0, 1.5], [2015.3, 1.55], [2015.6, 1.45], [2016.0, 1.4], [2016.3, 1.35], [2016.6, 1.3], [2017.0, 1.4], [2017.3, 1.35], [2017.7, 1.3],
];

const LEGEND_LABELS = [
  "Measured",
  "Original model",
  "Re-calibrated model",
  "Scenario 1 - original model",
  "Scenario 1 - recalibrated model",
];

const PANELS = [
  { title: "LKW034", measured: LKW034_MEASURED, origHi: LKW034_ORIG_HI, origLo: LKW034_ORIG_LO, recalHi: LKW034_RECAL_HI, recalLo: LKW034_RECAL_LO, yDomain: [0.85, 4.17], yTicks: [1, 2, 3, 4], fmt: "d" },
  { title: "SLE006", measured: SLE006_MEASURED, origHi: SLE006_ORIG_HI, origLo: SLE006_ORIG_LO, recalHi: SLE006_RECAL_HI, recalLo: SLE006_RECAL_LO, yDomain: [0.734, 2.18], yTicks: [1.0, 1.5, 2.0], fmt: ".1f" },
  { title: "ULE092", measured: ULE092_MEASURED, origHi: ULE092_ORIG_HI, origLo: ULE092_ORIG_LO, recalHi: ULE092_RECAL_HI, recalLo: ULE092_RECAL_LO, yDomain: [0.74, 4.47], yTicks: [1, 2, 3, 4], fmt: "d" },
  { title: "ULE094", measured: ULE094_MEASURED, origHi: ULE094_ORIG_HI, origLo: ULE094_ORIG_LO, recalHi: ULE094_RECAL_HI, recalLo: ULE094_RECAL_LO, yDomain: [0.68, 3.97], yTicks: [1, 2, 3], fmt: "d" },
  { title: "ULE095", measured: ULE095_MEASURED, origHi: ULE095_ORIG_HI, origLo: ULE095_ORIG_LO, recalHi: ULE095_RECAL_HI, recalLo: ULE095_RECAL_LO, yDomain: [0.644, 4.025], yTicks: [1, 2, 3, 4], fmt: "d" },
  { title: "ULE096", measured: ULE096_MEASURED, origHi: ULE096_ORIG_HI, origLo: ULE096_ORIG_LO, recalHi: ULE096_RECAL_HI, recalLo: ULE096_RECAL_LO, yDomain: [0.65, 4.0], yTicks: [1, 2, 3], fmt: "d" },
];

// ---------- LAYOUT ----------
const LAYOUT = [
  { left: 73.5, right: 596, top: 53, bottom: 368, labelX: 28 },
  { left: 713.5, right: 1235, top: 53, bottom: 368, labelX: 650 },
  { left: 74, right: 596, top: 534.5, bottom: 849, labelX: 28 },
  { left: 696, right: 1217.5, top: 535, bottom: 849, labelX: 650 },
  { left: 74, right: 596, top: 1016.5, bottom: 1330, labelX: 28 },
  { left: 696, right: 1217.5, top: 1016, bottom: 1330, labelX: 650 },
];

const DARK = "#006400";
const LIGHT = "#008000";
const LIGHT_OPACITY = 0.5;
const MEAS = "#add8e6";
const FONT = "'DejaVu Sans', Verdana, sans-serif";

function Panel({ p, L, idx }: any) {
  const x = d3.scaleLinear().domain([1960, 2040]).range([L.left, L.right]);
  const y = d3.scaleLinear().domain(p.yDomain).range([L.bottom, L.top]);
  const toPts = (hi: number[], lo: number[]) =>
    hi.flatMap((h, i) => [
      [FIRST_YEAR + i, h],
      [FIRST_YEAR + i + TROUGH_OFFSET, lo[i]],
    ]);
  const line = d3
    .line<number[]>()
    .x((d) => x(d[0]))
    .y((d) => y(d[1]));
  const orig = toPts(p.origHi, p.origLo);
  const recal = toPts(p.recalHi, p.recalLo);
  const hist = (pts: number[][]) => pts.filter((d) => d[0] <= SPLIT_YEAR);
  const scen = (pts: number[][]) => pts.filter((d) => d[0] >= SPLIT_YEAR);
  const clipId = `plotclip${idx}`;
  const fmt = d3.format(p.fmt);
  const cx = (L.left + L.right) / 2;
  const cy = (L.top + L.bottom) / 2;
  const lgW = 258;
  const lgH = 102;
  const lgX = L.right - 8 - lgW;
  const lgY = L.top + 7;
  const rowY = (i: number) => lgY + 11 + i * 19.33;

  return (
    <g>
      <defs>
        <clipPath id={clipId}>
          <rect x={L.left} y={L.top} width={L.right - L.left} height={L.bottom - L.top} />
        </clipPath>
      </defs>
      <text x={cx} y={L.top - 15} textAnchor="middle" fontSize={30} fontWeight="bold" fontFamily={FONT}>
        {p.title}
      </text>
      <g clipPath={`url(#${clipId})`}>
        {p.measured.map((d: number[], i: number) => (
          <circle key={i} cx={x(d[0])} cy={y(d[1])} r={3.3} fill="none" stroke={MEAS} strokeWidth={1.2} />
        ))}
        <path d={line(hist(orig)) || ""} fill="none" stroke={DARK} strokeWidth={1.7} strokeLinejoin="round" />
        <path d={line(hist(recal)) || ""} fill="none" stroke={LIGHT} strokeOpacity={LIGHT_OPACITY} strokeWidth={1.7} strokeLinejoin="round" />
        <path d={line(scen(orig)) || ""} fill="none" stroke={DARK} strokeWidth={1.7} strokeLinejoin="round" />
        <path d={line(scen(recal)) || ""} fill="none" stroke={LIGHT} strokeOpacity={LIGHT_OPACITY} strokeWidth={1.7} strokeLinejoin="round" />
      </g>
      <rect x={L.left} y={L.top} width={L.right - L.left} height={L.bottom - L.top} fill="none" stroke="#000" strokeWidth={1.6} />
      {X_TICKS.map((t) => (
        <g key={t}>
          <line x1={x(t)} x2={x(t)} y1={L.bottom} y2={L.bottom + 8} stroke="#000" strokeWidth={1.6} />
          <text
            transform={`translate(${x(t) - 3},${L.bottom + 34}) rotate(-30)`}
            textAnchor="end"
            fontSize={16.5}
            fontFamily={FONT}
            fill="#222"
          >
            {t}
          </text>
        </g>
      ))}
      {p.yTicks.map((t: number) => (
        <g key={t}>
          <line x1={L.left - 8} x2={L.left} y1={y(t)} y2={y(t)} stroke="#000" strokeWidth={1.6} />
          <text x={L.left - 20} y={y(t)} dy="0.35em" textAnchor="end" fontSize={16.5} fontFamily={FONT} fill="#222">
            {fmt(t)}
          </text>
        </g>
      ))}
      <text x={cx} y={L.bottom + 85} textAnchor="middle" fontSize={21} fontFamily={FONT} fill="#222">
        Date
      </text>
      <text
        transform={`translate(${L.labelX},${cy}) rotate(-90)`}
        textAnchor="middle"
        fontSize={21}
        fontFamily={FONT}
        fill="#222"
      >
        Groundwater level (m AHD)
      </text>
      <g>
        <rect x={lgX} y={lgY} width={lgW} height={lgH} rx={3} fill="#fff" fillOpacity={0.8} stroke="#cccccc" strokeWidth={1.2} />
        {LEGEND_LABELS.map((lab, i) => {
          const yy = rowY(i);
          return (
            <g key={lab}>
              {i === 0 ? (
                <circle cx={lgX + 19} cy={yy} r={2.8} fill="none" stroke={MEAS} strokeWidth={1.2} />
              ) : (
                <line
                  x1={lgX + 5}
                  x2={lgX + 33}
                  y1={yy}
                  y2={yy}
                  stroke={i % 2 === 1 ? DARK : LIGHT}
                  strokeOpacity={i % 2 === 1 ? 1 : LIGHT_OPACITY}
                  strokeWidth={1.7}
                />
              )}
              <text x={lgX + 43} y={yy} dy="0.35em" fontSize={13.3} fontFamily={FONT} fill="#222">
                {lab}
              </text>
            </g>
          );
        })}
      </g>
    </g>
  );
}

export default function App() {
  return (
    <svg
      width={1238}
      height={1421}
      viewBox="0 0 1238 1421"
      style={{ position: "absolute", left: 0, top: 0, background: "#fff" }}
    >
      <rect x={0} y={0} width={1238} height={1421} fill="#fff" />
      {PANELS.map((p, i) => (
        <Panel key={p.title} p={p} L={LAYOUT[i]} idx={i} />
      ))}
    </svg>
  );
}
